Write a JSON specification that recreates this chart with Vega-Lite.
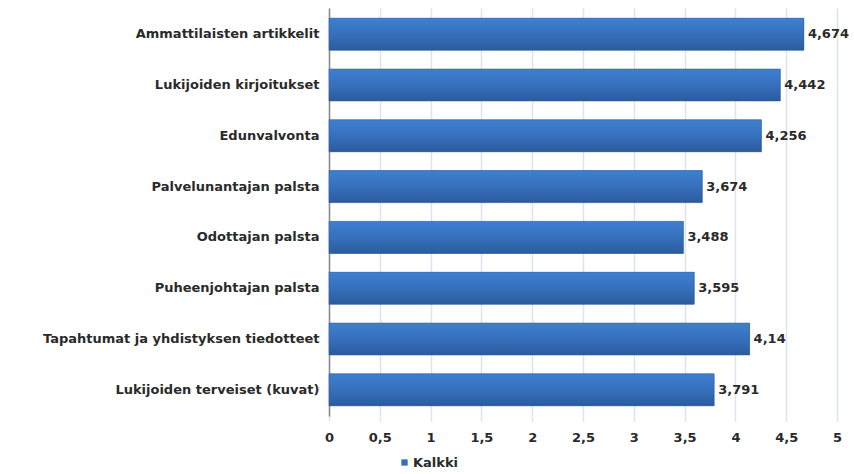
{
  "$schema": "https://vega.github.io/schema/vega-lite/v6.json",
  "autosize": "none",
  "width": 508,
  "height": 408,
  "padding": {"left": 329, "top": 8, "right": 17, "bottom": 58},
  "background": "white",
  "config": {
    "locale": {"number": {"decimal": ",", "thousands": " ", "grouping": [3], "currency": ["", " €"]}},
    "view": {"stroke": null},
    "font": "DejaVu Sans"
  },
  "data": {
    "values": [
      {"category": "Ammattilaisten artikkelit", "value": 4.674, "series": "Kalkki"},
      {"category": "Lukijoiden kirjoitukset", "value": 4.442, "series": "Kalkki"},
      {"category": "Edunvalvonta", "value": 4.256, "series": "Kalkki"},
      {"category": "Palvelunantajan palsta", "value": 3.674, "series": "Kalkki"},
      {"category": "Odottajan palsta", "value": 3.488, "series": "Kalkki"},
      {"category": "Puheenjohtajan palsta", "value": 3.595, "series": "Kalkki"},
      {"category": "Tapahtumat ja yhdistyksen tiedotteet", "value": 4.14, "series": "Kalkki"},
      {"category": "Lukijoiden terveiset (kuvat)", "value": 3.791, "series": "Kalkki"}
    ]
  },
  "encoding": {
    "y": {
      "field": "category",
      "type": "nominal",
      "sort": null,
      "title": null,
      "scale": {"paddingInner": 0.37, "paddingOuter": 0.2},
      "axis": {
        "ticks": false,
        "domainColor": "#8a8a8a",
        "domainWidth": 1.5,
        "labelFont": "DejaVu Sans",
        "labelFontWeight": "bold",
        "labelFontSize": 13,
        "labelColor": "#2a2a2a",
        "labelPadding": 10,
        "labelLimit": 400
      }
    },
    "x": {
      "field": "value",
      "type": "quantitative",
      "title": null,
      "scale": {"domain": [0, 5], "nice": false},
      "axis": {
        "values": [0, 0.5, 1, 1.5, 2, 2.5, 3, 3.5, 4, 4.5, 5],
        "format": "~r",
        "domain": false,
        "grid": true,
        "gridColor": "#dde4ee",
        "gridWidth": 1.5,
        "tickColor": "#dde4ee",
        "tickSize": 5,
        "tickWidth": 1.5,
        "labelFont": "DejaVu Sans",
        "labelFontWeight": "bold",
        "labelFontSize": 13,
        "labelColor": "#2a2a2a",
        "labelPadding": 10,
        "labelFlush": false
      }
    }
  },
  "layer": [
    {
      "mark": {"type": "bar"},
      "encoding": {
        "fill": {
          "field": "series",
          "type": "nominal",
          "scale": {"range": ["#3670bd"]},
          "legend": {
            "orient": "none",
            "legendX": 69,
            "legendY": 448,
            "title": null,
            "symbolType": "square",
            "symbolSize": 40,
            "symbolStrokeWidth": 0,
            "labelFont": "DejaVu Sans",
            "labelFontWeight": "bold",
            "labelFontSize": 13,
            "labelColor": "#2a2a2a",
            "labelOffset": 2
          }
        }
      }
    },
    {
      "mark": {
        "type": "bar",
        "stroke": "#2d5b96",
        "strokeWidth": 0.5,
        "fill": {"gradient": "linear", "x1": 0, "y1": 0, "x2": 0, "y2": 1,
          "stops": [
            {"offset": 0, "color": "#3f7fd0"},
            {"offset": 0.5, "color": "#3670bd"},
            {"offset": 1, "color": "#2b5b9c"}
          ]}
      }
    },
    {
      "mark": {
        "type": "text",
        "align": "left",
        "baseline": "middle",
        "dx": 4,
        "font": "DejaVu Sans",
        "fontWeight": "bold",
        "fontSize": 13,
        "color": "#2a2a2a"
      },
      "encoding": {
        "text": {"field": "value", "type": "quantitative", "format": "~r"}
      }
    }
  ]
}
